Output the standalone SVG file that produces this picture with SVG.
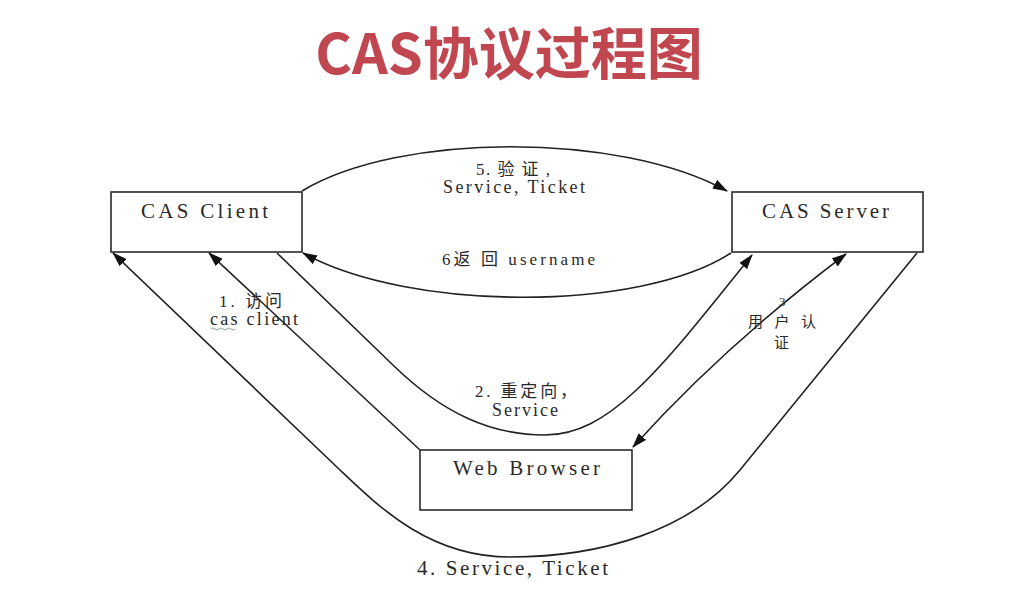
<svg xmlns="http://www.w3.org/2000/svg" width="1009" height="596" viewBox="0 0 1009 596">
<defs>
<style>
.box{fill:#fff;stroke:#2a2a2a;stroke-width:1.6}
.ln{fill:none;stroke:#222;stroke-width:1.6}
.t{font-family:"Liberation Serif","Times New Roman","DejaVu Serif","Noto Sans CJK SC",serif;fill:#2a2a2a}
.cj{font-family:"Noto Sans CJK SC","Liberation Sans",sans-serif;fill:#2a2a2a}
.title{font-family:"Noto Sans CJK SC","Liberation Sans",sans-serif;font-weight:bold;fill:#c0464f}
</style>
<marker id="ah" markerWidth="15" markerHeight="10" refX="14" refY="5" orient="auto" markerUnits="userSpaceOnUse">
<path d="M0,0 L15,5 L0,10 Z" fill="#111"/>
</marker>
<marker id="ahs" markerWidth="15" markerHeight="10" refX="1" refY="5" orient="auto" markerUnits="userSpaceOnUse">
<path d="M15,0 L0,5 L15,10 Z" fill="#111"/>
</marker>
</defs>
<rect width="1009" height="596" fill="#fff"/>
<text class="title" x="509" y="74" font-size="56" text-anchor="middle">CAS协议过程图</text>

<g id="connectors">
<path id="c5" class="ln" d="M302,191 C400,132 620,132 727,191" marker-end="url(#ah)"/>
<path id="c6" class="ln" d="M731,253 C640,312 410,312 303,253" marker-end="url(#ah)"/>
<path id="c1" class="ln" d="M420,450 L209,253" marker-end="url(#ah)"/>
<path id="c2" class="ln" d="M277,253 L395,367 C443,413 490,435 545,435 C610,435 660,370 752,255" marker-end="url(#ah)"/>
<path id="c3" class="ln" d="M633,447 Q725,345 846,254" marker-start="url(#ahs)" marker-end="url(#ah)"/>
<path id="c4" class="ln" d="M917,253 L740,470 C690,531 600,557 510,557 C430,557 380,508 340,470 L113,253" marker-end="url(#ah)"/>
</g>

<g id="node-client">
<rect class="box" x="111" y="192" width="191" height="60"/>
<text class="t" x="141" y="218" font-size="21" textLength="127" lengthAdjust="spacing">CAS Client</text>
</g>
<g id="node-server">
<rect class="box" x="732" y="192" width="191" height="60"/>
<text class="t" x="762" y="218" font-size="21" textLength="127" lengthAdjust="spacing">CAS Server</text>
</g>
<g id="node-browser">
<rect class="box" x="420" y="450" width="212" height="60"/>
<text class="t" x="453" y="475" font-size="21" textLength="147" lengthAdjust="spacing">Web Browser</text>
</g>

<g id="labels">
<text class="t" x="476" y="175" font-size="17" textLength="74" lengthAdjust="spacing">5. 验 证 ,</text>
<text class="t" x="443" y="193" font-size="18" textLength="142" lengthAdjust="spacing">Service, Ticket</text>
<text class="t" x="442" y="265" font-size="17" textLength="153" lengthAdjust="spacing">6返 回 username</text>
<text class="t" x="219" y="307" font-size="17" textLength="63" lengthAdjust="spacing">1. 访问</text>
<text class="t" x="210" y="325" font-size="18" textLength="88" lengthAdjust="spacing">cas client</text>
<path d="M211,329 q2,-2 4,0 t4,0 t4,0 t4,0 t4,0 t4,0" fill="none" stroke="#8aa08a" stroke-width="1"/>
<text class="t" x="475" y="397" font-size="17" textLength="102" lengthAdjust="spacing">2. 重定向，</text>
<text class="t" x="492" y="416" font-size="18" textLength="66" lengthAdjust="spacing">Service</text>
<text class="t" x="779" y="306" font-size="13">3</text>
<text class="cj" x="748" y="327" font-size="15" textLength="68" lengthAdjust="spacing">用户认</text>
<text class="cj" x="774" y="348" font-size="15">证</text>
<text class="t" x="417" y="575" font-size="21" textLength="191" lengthAdjust="spacing">4. Service, Ticket</text>
</g>
</svg>
